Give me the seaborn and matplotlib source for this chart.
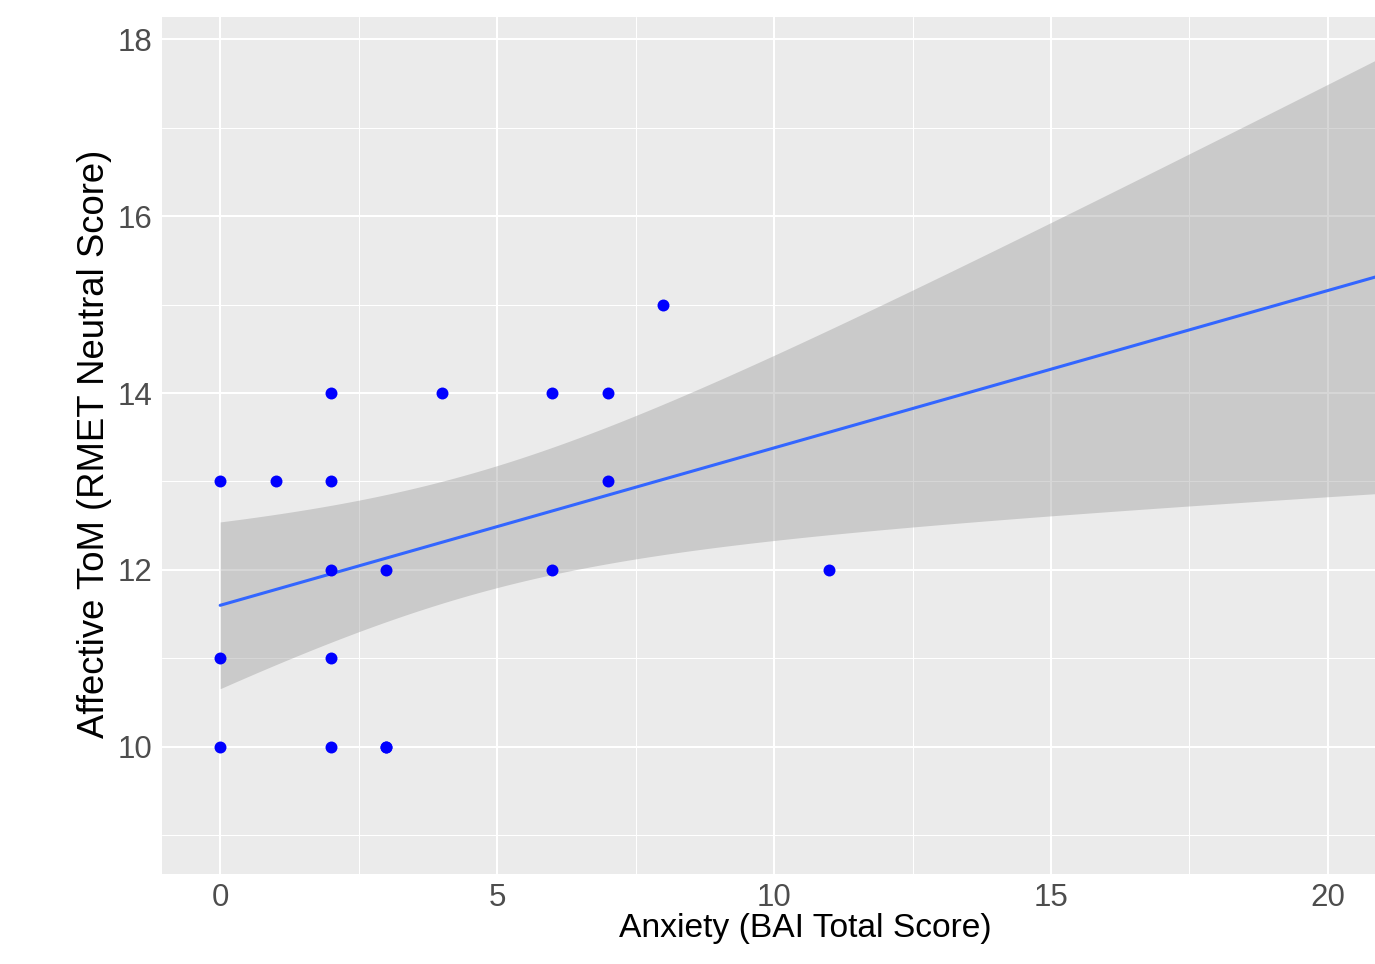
import numpy as np
import pandas as pd
import matplotlib
matplotlib.use("Agg")
import matplotlib.pyplot as plt
from matplotlib.ticker import MultipleLocator
import seaborn as sns

# ---- data (one point lies at x=21, just past the cropped right edge,
#      and one point at (3, 10) is over-plotted) ----
anxiety = [0, 1, 2, 2, 2, 3, 4, 6, 7, 7, 6, 8, 11, 0, 2, 0, 2, 3, 3, 21]
tom     = [13, 13, 14, 13, 12, 12, 14, 14, 14, 13, 12, 15, 12, 11, 11, 10, 10, 10, 10, 15]
x_ticks = [0, 5, 10, 15, 20]
y_ticks = [10, 12, 14, 16, 18]
x_label = "Anxiety (BAI Total Score)"
y_label = "Affective ToM (RMET Neutral Score)"

df = pd.DataFrame({"x": anxiety, "y": tom})

sns.set_style("darkgrid", {"axes.facecolor": "#EBEBEB", "grid.color": "white",
                           "axes.edgecolor": "#EBEBEB"})
plt.rcParams["font.family"] = ["Liberation Sans", "DejaVu Sans"]


def t_ppf(p, dof):
    try:
        from scipy import stats
        return float(stats.t.ppf(p, dof))
    except Exception:
        from math import lgamma, exp, pi, sqrt
        g = np.linspace(0, 12, 240001)
        c = exp(lgamma((dof + 1) / 2) - lgamma(dof / 2)) / sqrt(dof * pi)
        pdf = c * (1 + g ** 2 / dof) ** (-(dof + 1) / 2)
        cdf = 0.5 + np.concatenate([[0], np.cumsum((pdf[1:] + pdf[:-1]) / 2 * np.diff(g))])
        return float(np.interp(p, cdf, g))


fig = plt.figure(figsize=(13.75, 9.64), dpi=100)
ax_left, ax_bottom_px, ax_top_px = 162, 874.3, 17.3
ax = fig.add_axes([ax_left / 1375, (964 - ax_bottom_px) / 964, 1 - ax_left / 1375,
                   (ax_bottom_px - ax_top_px) / 964])
ax.set_facecolor("#EBEBEB")

# regression line (seaborn) over the data range
sns.regplot(data=df, x="x", y="y", ax=ax, scatter=False, ci=None, truncate=True,
            line_kws={"color": "#3366FF", "lw": 2.2, "zorder": 3})

# analytic 95% confidence band (as in lm smoothing)
X = df["x"].to_numpy(float)
Y = df["y"].to_numpy(float)
n = len(X)
b, a = np.polyfit(X, Y, 1)
resid = Y - (a + b * X)
s = np.sqrt(np.sum(resid ** 2) / (n - 2))
mx = X.mean()
sxx = np.sum((X - mx) ** 2)
xs = np.linspace(X.min(), X.max(), 300)
fit = a + b * xs
se = s * np.sqrt(1 / n + (xs - mx) ** 2 / sxx)
tc = t_ppf(0.975, n - 2)
ax.fill_between(xs, fit - tc * se, fit + tc * se, color="#999999", alpha=0.4,
                linewidth=0, zorder=2)

# points
sns.scatterplot(data=df, x="x", y="y", ax=ax, color="#0000FF", s=74, linewidth=0,
                zorder=4, legend=False)

ax.set_xlim(-1.05, 20.85)
ax.set_ylim(8.557, 18.249)
ax.set_xticks(x_ticks)
ax.set_yticks(y_ticks)
ax.xaxis.set_minor_locator(MultipleLocator(2.5))
ax.yaxis.set_minor_locator(MultipleLocator(1))
ax.grid(which="major", color="white", lw=1.5)
ax.grid(which="minor", color="white", lw=0.75)
ax.set_axisbelow(True)
for sp in ax.spines.values():
    sp.set_visible(False)

ax.tick_params(which="major", axis="both", length=4, width=1.1, color="#333333",
               labelcolor="#4D4D4D", labelsize=22.5, direction="out")
ax.tick_params(axis="x", pad=2)
ax.tick_params(axis="y", pad=3)
ax.tick_params(which="minor", length=0)

h_px = ax_bottom_px - ax_top_px
w_px = 1375 - ax_left
ax.set_xlabel(x_label, fontsize=24.2, color="black")
ax.set_ylabel(y_label, fontsize=26.3, color="black")
ax.xaxis.set_label_coords((805.8 - ax_left) / w_px, -(937 - ax_bottom_px) / h_px,
                          transform=ax.transAxes)
ax.xaxis.label.set_verticalalignment("baseline")
ax.yaxis.set_label_coords((112 - ax_left) / w_px, (ax_bottom_px - 443.5) / h_px,
                          transform=ax.transAxes)

fig.savefig("out.png", dpi=100)
